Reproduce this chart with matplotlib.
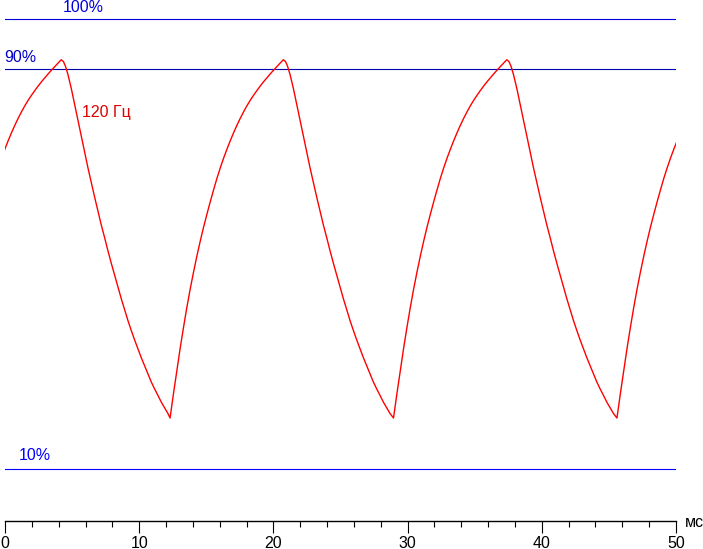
import numpy as np
import matplotlib
matplotlib.use("Agg")
import matplotlib.pyplot as plt
from matplotlib.ticker import MultipleLocator

plt.rcParams['font.family'] = ['Liberation Sans', 'DejaVu Sans']

# One measured cycle of the brightness trace (time from the minimum, ms; brightness, %)
rise_t = [0.00, 0.25, 0.50, 0.75, 1.00, 1.25, 1.50, 1.75, 2.00, 2.25, 2.50, 2.75,
          3.00, 3.25, 3.50, 3.75, 4.00, 4.25, 4.50, 4.75, 5.00, 5.25, 5.50, 5.75,
          6.00, 6.25, 6.50, 6.75, 7.00, 7.25, 7.50, 7.75, 8.00, 8.25, 8.44]
rise_v = [20.2, 25.0, 29.6, 34.1, 38.3, 42.3, 46.0, 49.4, 52.6, 55.6, 58.4, 61.0,
          63.5, 65.9, 68.2, 70.3, 72.25, 74.05, 75.75, 77.35, 78.85, 80.25, 81.55, 82.75,
          83.85, 84.85, 85.8, 86.7, 87.55, 88.35, 89.13, 89.88, 90.6, 91.3, 91.85]
fall_t = [8.60, 8.75, 8.94, 9.19, 9.44, 9.69, 9.94, 10.19, 10.43, 10.68, 10.93, 11.18,
          11.42, 11.68, 11.92, 12.17, 12.42, 12.67, 12.91, 13.17, 13.41, 13.66, 13.91,
          14.16, 14.40, 14.66, 14.90, 15.15, 15.40, 15.65, 15.89, 16.15, 16.39]
fall_v = [91.5, 90.6, 88.9, 86.1, 82.9, 79.7, 76.5, 73.35, 70.25, 67.25, 64.35, 61.55,
          58.85, 56.2, 53.65, 51.15, 48.75, 46.4, 44.1, 41.85, 39.7, 37.7, 35.8,
          34.0, 32.3, 30.6, 29.0, 27.4, 26.0, 24.7, 23.4, 22.2, 21.1]
# Times of the observed minima (ms)
cycle_starts = [-4.25, 12.30, 28.95, 45.60]
cycle_len = 16.64

levels = [100, 90, 10]
level_labels = ["100%", "90%", "10%"]
level_colors = ["#0000e0", "#0000b0", "#0000ff"]
freq_label = "120 Гц"
unit_label = "мс"
xticks = [0, 10, 20, 30, 40, 50]

cycle_t = rise_t + fall_t
cycle_v = rise_v + fall_v
t = []
v = []
for s in cycle_starts:
    t.extend([s + c for c in cycle_t])
    v.extend(cycle_v)
t.append(cycle_starts[-1] + cycle_len)
v.append(cycle_v[0])

W, H = 703, 549
fig = plt.figure(figsize=(W / 100, H / 100), dpi=100)
ax_bottom = (H - 521) / H
ax = fig.add_axes([5 / W, ax_bottom, 671 / W, 521 / H])
ax.set_xlim(0, 50)
ax.set_ylim(-0.4, 103.8)

for lv, col in zip(levels, level_colors):
    ax.axhline(lv, color=col, lw=0.8)

ax.plot(t, v, color="#ff0000", lw=1.0)

fs = 11.5
ax.text(4.32, 101.35, level_labels[0], color=level_colors[0], fontsize=fs, ha='left', va='baseline')
ax.text(-0.07, 91.4, level_labels[1], color="#0000c8", fontsize=fs, ha='left', va='baseline', clip_on=False)
ax.text(1.04, 11.8, level_labels[2], color=level_colors[2], fontsize=fs, ha='left', va='baseline')
ax.text(5.74, 80.4, freq_label, color="#e00000", fontsize=fs, ha='left', va='baseline')
ax.text(50.67, -1.6, unit_label, color="black", fontsize=fs, ha='left', va='baseline', clip_on=False)

for side in ['top', 'right', 'left']:
    ax.spines[side].set_visible(False)
ax.spines['bottom'].set_linewidth(1.0)
ax.set_yticks([])
ax.set_xticks(xticks)
ax.xaxis.set_minor_locator(MultipleLocator(2))
ax.tick_params(axis='x', which='major', length=8.5, width=0.8, labelsize=fs, pad=2.0)
ax.tick_params(axis='x', which='minor', length=4.5, width=0.8)
ax.patch.set_visible(False)

fig.savefig("out.png", dpi=100)
